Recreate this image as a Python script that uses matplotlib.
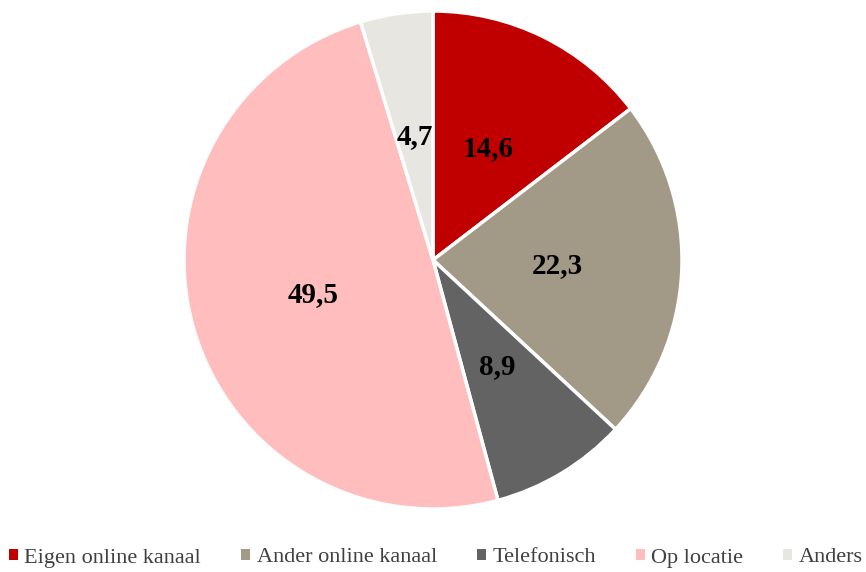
import matplotlib
matplotlib.use("Agg")
import matplotlib.pyplot as plt
from matplotlib.patches import Rectangle
from matplotlib.font_manager import FontProperties

categories = ["Eigen online kanaal", "Ander online kanaal", "Telefonisch", "Op locatie", "Anders"]
values = [14.6, 22.3, 8.9, 49.5, 4.7]
labels = ["14,6", "22,3", "8,9", "49,5", "4,7"]
colors = ["#C00000", "#A29A87", "#636363", "#FFBDBD", "#E8E6E1"]

W, H = 866, 572
fig = plt.figure(figsize=(W / 100, H / 100), dpi=100)
cx, cy, r = 433, 260, 249
ax = fig.add_axes([(cx - r) / W, (H - cy - r) / H, 2 * r / W, 2 * r / H])
wedges, texts = ax.pie(values, colors=colors, startangle=90, counterclock=False,
                       labels=labels, labeldistance=0.5,
                       wedgeprops=dict(edgecolor="white", linewidth=2.5),
                       textprops=dict(fontfamily="Liberation Serif", fontweight="bold",
                                      fontsize=21, color="black", ha="center", va="center"))
ax.set_xlim(-1, 1)
ax.set_ylim(-1, 1)
ax.set_aspect("equal")
ax.axis("off")

handles = [Rectangle((0, 0), 1, 1, facecolor=c, edgecolor="none") for c in colors]
leg = fig.legend(handles, categories, loc="center left", bbox_to_anchor=(0.01, 1 - 558 / H),
                 ncol=5, frameon=False, handlelength=0.4, handleheight=0.4,
                 handletextpad=0.3, columnspacing=1.8, borderaxespad=0, borderpad=0,
                 prop=FontProperties(family="Liberation Serif", size=16))
for t in leg.get_texts():
    t.set_color("#404040")

fig.savefig("out.png", dpi=100)
